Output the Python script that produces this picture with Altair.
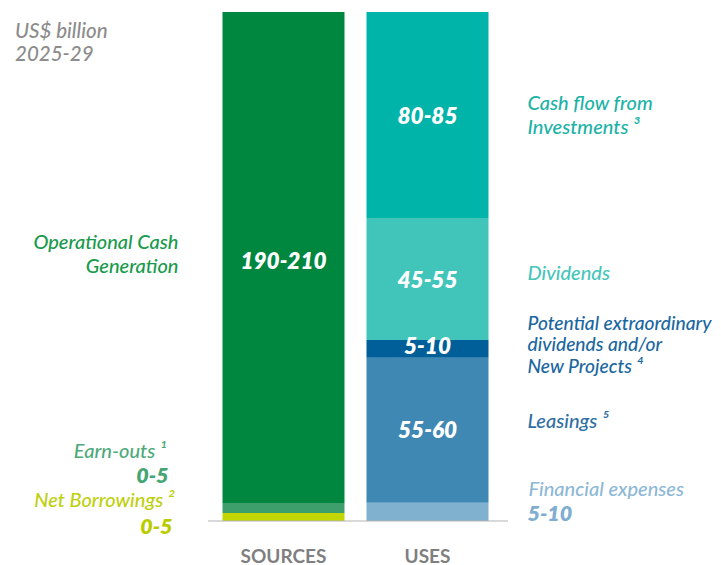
import altair as alt
import pandas as pd

# ---------------- data ----------------
groups = ["SOURCES", "USES"]

source_items = ["Net Borrowings", "Earn-outs", "Operational Cash Generation"]
source_values = [3.2, 4.0, 197.8]
source_ranges = ["0-5", "0-5", "190-210"]
source_labels = ["Net Borrowings \u00b2", "Earn-outs \u00b9", "Operational Cash\nGeneration"]
source_colors = ["#C4D600", "#3F9F6C", "#00873F"]

use_items = ["Financial expenses", "Leasings",
             "Potential extraordinary dividends and/or New Projects",
             "Dividends", "Cash flow from Investments"]
use_values = [7.3, 58.4, 7.2, 49.1, 83.0]
use_ranges = ["5-10", "55-60", "5-10", "45-55", "80-85"]
use_labels = ["Financial expenses", "Leasings \u2075",
              "Potential extraordinary\ndividends and/or\nNew Projects \u2074",
              "Dividends", "Cash flow from\nInvestments \u00b3"]
use_colors = ["#80B1CF", "#3F88B3", "#005F98", "#41C5BA", "#00B4A9"]

unit_lines = ["US$ billion", "2025-29"]

# ---------------- table ----------------
rows = []
for grp, items, vals, rngs, labs in [
    ("SOURCES", source_items, source_values, source_ranges, source_labels),
    ("USES", use_items, use_values, use_ranges, use_labels),
]:
    start = 0.0
    for i, (it, v, r, lb) in enumerate(zip(items, vals, rngs, labs)):
        rows.append(dict(group=grp, item=it, value=v, range=r, label=lb,
                         start=start, end=start + v, mid=start + v / 2))
        start += v
df = pd.DataFrame(rows)

FONT = "Lato"
all_items = source_items + use_items
all_colors = source_colors + use_colors

xscale = alt.Scale(domain=groups, range=[214.5, 480.5], paddingInner=0.1528, paddingOuter=0)
yscale = alt.Scale(domain=[0, 205], nice=False, zero=True)

xaxis = alt.Axis(labelFont=FONT, labelFontSize=19, labelFontWeight="bold",
                 labelColor="#7F7F7F", ticks=False, tickSize=0, domain=False,
                 labelPadding=26, labelAngle=0, grid=False)

def X():
    return alt.X("group:N", sort=groups, scale=xscale, title=None, axis=xaxis)

bars = alt.Chart(df).mark_bar(strokeWidth=0).encode(
    x=X(),
    y=alt.Y("start:Q", scale=yscale, axis=None),
    y2="end:Q",
    color=alt.Color("item:N", scale=alt.Scale(domain=all_items, range=all_colors), legend=None),
)

def txt(item, field, dx, dy, align, color, size, weight=500, lh=24):
    return alt.Chart(df).transform_filter(alt.datum.item == item).mark_text(
        dx=dx, dy=dy, align=align, baseline="middle", font=FONT, fontStyle="italic",
        fontSize=size, fontWeight=weight, color=color, lineBreak="\n", lineHeight=lh,
    ).encode(x=X(), y=alt.Y("mid:Q", scale=yscale, axis=None), text=f"{field}:N")

W = "#FFFFFF"
VS = 22.5
layers = [
    bars,
    # values inside bars
    txt("Operational Cash Generation", "range", 0, 4, "center", W, VS, 800),
    txt("Cash flow from Investments", "range", 0, 2, "center", W, VS, 800),
    txt("Dividends", "range", 0, 2, "center", W, VS, 800),
    txt("Potential extraordinary dividends and/or New Projects", "range", 0, -2, "center", W, VS, 800),
    txt("Leasings", "range", 0, 1, "center", W, VS, 800),
    # left labels
    txt("Operational Cash Generation", "label", -105, -15, "right", "#189A4C", 20),
    txt("Earn-outs", "label", -117, -56, "right", "#4DAA7A", 20),
    txt("Earn-outs", "range", -115, -31, "right", "#44A673", 21.5, 800),
    txt("Net Borrowings", "label", -109, -16, "right", "#BDD00C", 20),
    txt("Net Borrowings", "range", -111, 11, "right", "#BACB00", 21.5, 800),
    # right labels
    txt("Cash flow from Investments", "label", 100, -11, "left", "#1BB3A6", 20),
    txt("Dividends", "label", 100, -5, "left", "#46C6BA", 20),
    txt("Potential extraordinary dividends and/or New Projects", "label", 100, -25, "left", "#1A67A0", 19.2, lh=21.5),
    txt("Leasings", "label", 100, -8, "left", "#2F6FA3", 20),
    txt("Financial expenses", "label", 101, -22, "left", "#8DB8D6", 20),
    txt("Financial expenses", "range", 100, 3, "left", "#7FAED0", 21.5, 800),
]

baseline = alt.Chart(pd.DataFrame({"y": [0]})).mark_rule(color="#B3B3B3", strokeWidth=1).encode(
    y=alt.Y("y:Q", scale=yscale, axis=None), x=alt.value(200), x2=alt.value(500)
)

unit = alt.Chart(pd.DataFrame({"t": ["\n".join(unit_lines)]})).mark_text(
    align="left", baseline="middle", font=FONT, fontStyle="italic", fontSize=20.5,
    fontWeight=500, color="#8C8C8C", lineBreak="\n", lineHeight=22.5,
).encode(x=alt.value(7), y=alt.value(20), text="t:N")

chart = alt.layer(*layers, baseline, unit).properties(
    width=705, height=509,
    autosize=alt.AutoSizeParams(type="none"),
    padding={"left": 0, "top": 4, "right": 0, "bottom": 44},
).configure_view(stroke=None)

chart.save("out.html", embed_options={"renderer": "svg", "actions": False})
